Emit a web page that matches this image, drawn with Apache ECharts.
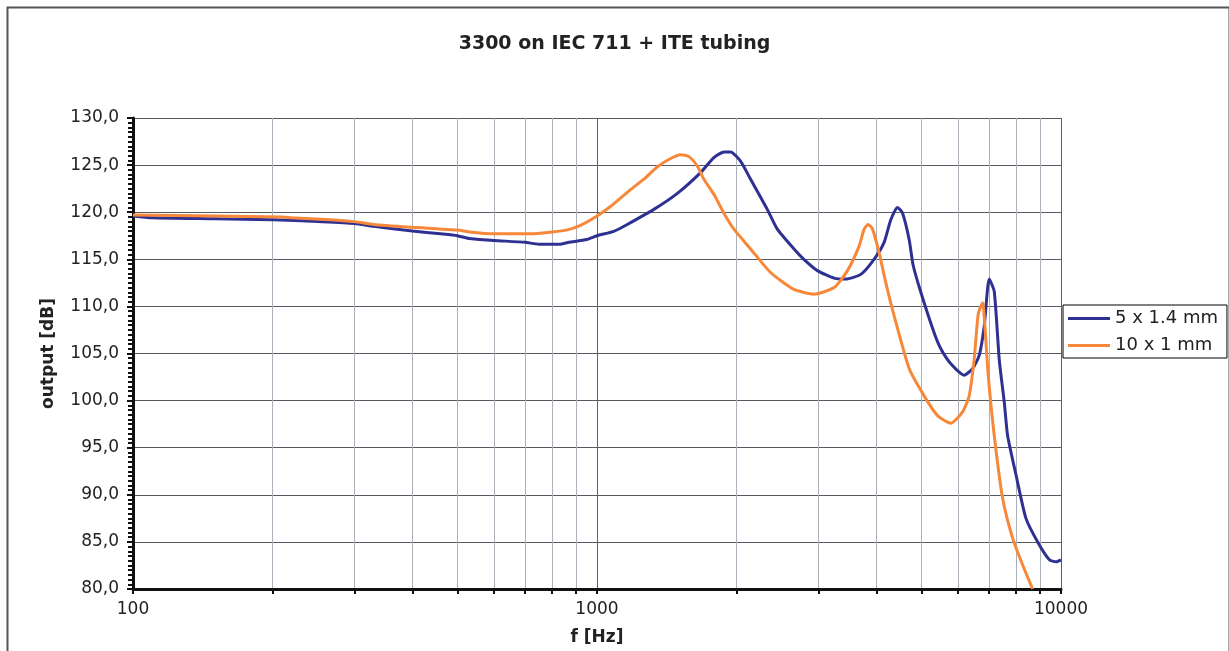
<!DOCTYPE html>
<html>
<head>
<meta charset="utf-8">
<script src="https://cdn.jsdelivr.net/npm/echarts@6/dist/echarts.min.js"></script>
<style>
html,body{margin:0;padding:0;background:#fff;}
#chart{width:1229px;height:651px;}
</style>
</head>
<body>
<div id="chart"></div>
<script>
var titleText = '3300 on IEC 711 + ITE tubing';
var seriesNames = ['5 x 1.4 mm', '10 x 1 mm'];

var blueFreq = [100,110,150,200,250,300,330,400,460,500,530,600,700,750,830,870,950,1000,1090,1162,1326,1490,1672,1786,1880,1940,2040,2143,2328,2447,2658,2792,2985,3243,3435,3703,3954,4157,4297,4443,4556,4707,4800,4988,5328,5508,5789,6185,6450,6664,6832,7003,7180,7362,7548,7672,8000,8404,8906,9441,9760,10000];
var blueDb   = [119.6,119.4,119.3,119.2,119.0,118.8,118.5,118.0,117.7,117.5,117.2,117.0,116.8,116.6,116.6,116.8,117.1,117.5,118.0,118.7,120.3,122.0,124.2,125.8,126.4,126.4,125.4,123.5,120.3,118.2,116.1,115.0,113.8,113.0,112.9,113.4,115.0,116.8,119.2,120.5,119.9,117.1,114.4,111.5,107.2,105.5,103.9,102.7,103.4,104.8,107.9,112.9,111.6,104.3,99.8,96.3,92.1,87.5,85.0,83.1,82.9,83.1];

var orangeFreq = [100,150,210,220,266,300,330,400,500,530,600,720,800,860,921,1000,1069,1181,1262,1348,1441,1514,1578,1645,1700,1786,1877,1973,2143,2366,2658,2935,3243,3466,3672,3765,3840,3925,4055,4193,4369,4707,5070,5420,5789,6136,6340,6500,6632,6777,6855,6969,7180,7487,7865,8260,8685];
var orangeDb   = [119.7,119.6,119.5,119.4,119.2,119.0,118.7,118.4,118.1,117.9,117.7,117.7,117.9,118.1,118.6,119.6,120.6,122.4,123.5,124.8,125.7,126.1,125.9,124.9,123.5,121.9,119.9,118.2,116.1,113.6,111.8,111.3,112.0,113.8,116.4,118.2,118.7,118.2,115.7,112.5,109.0,103.4,100.5,98.4,97.6,98.8,100.5,104.4,109.2,110.4,107.9,102.7,96.3,89.6,85.4,82.6,80.0];

var yMin = 80, yMax = 130, yStep = 5;
var xMin = 100, xMax = 10000;

function pairs(xs, ys) { return xs.map(function (x, i) { return [x, ys[i]]; }); }

var chart = echarts.init(document.getElementById('chart'), null, {renderer: 'canvas'});
var FONT = 'DejaVu Sans';

chart.setOption({
  backgroundColor: '#ffffff',
  animation: false,
  textStyle: {fontFamily: FONT},
  graphic: [{
    type: 'rect', left: 5, top: 5, silent: true,
    shape: {width: 1222, height: 700},
    style: {fill: 'none', stroke: '#555', lineWidth: 2}
  }],
  title: {
    text: titleText, left: 'center', top: 30,
    textStyle: {fontFamily: FONT, fontSize: 19, fontWeight: 'bold', color: '#222'}
  },
  legend: {
    orient: 'vertical', left: 1063, top: 305,
    padding: [4, 9, 3, 5],
    borderColor: '#000', borderWidth: 1, backgroundColor: '#fff',
    itemWidth: 42, itemHeight: 3, itemGap: 8, icon: 'rect',
    textStyle: {fontFamily: FONT, fontSize: 18, color: '#222', lineHeight: 19},
    data: seriesNames
  },
  grid: {left: 133, right: 168, top: 118, bottom: 60, containLabel: false},
  xAxis: {
    type: 'log', logBase: 10, min: xMin, max: xMax,
    name: 'f [Hz]', nameLocation: 'middle', nameGap: 40,
    nameTextStyle: {fontFamily: FONT, fontSize: 17, fontWeight: 'bold', color: '#222'},
    axisLine: {show: true, onZero: false, lineStyle: {color: '#111', width: 3}},
    axisTick: {show: true, length: 5, lineStyle: {color: '#111', width: 2}},
    minorTick: {show: true, splitNumber: 9, length: 5, lineStyle: {color: '#111', width: 2}},
    axisLabel: {
      margin: 12, fontFamily: FONT, fontSize: 17, color: '#222',
      formatter: function (v) { return String(Math.round(v)); }
    },
    splitLine: {show: true, lineStyle: {color: '#5a5f66', width: 1}},
    minorSplitLine: {show: true, lineStyle: {color: '#a9b0b8', width: 1}}
  },
  yAxis: {
    type: 'value', min: yMin, max: yMax, interval: yStep,
    name: 'output [dB]', nameLocation: 'middle', nameGap: 76, nameRotate: 90,
    nameTextStyle: {fontFamily: FONT, fontSize: 17, fontWeight: 'bold', color: '#222'},
    axisLine: {show: true, lineStyle: {color: '#111', width: 3}},
    axisTick: {show: true, length: 6, lineStyle: {color: '#111', width: 2}},
    minorTick: {show: true, splitNumber: 10, length: 5, lineStyle: {color: '#111', width: 2}},
    axisLabel: {
      margin: 14, fontFamily: FONT, fontSize: 17, color: '#222',
      formatter: function (v) { return v.toFixed(1).replace('.', ','); }
    },
    splitLine: {show: true, lineStyle: {color: '#555a60', width: 1}}
  },
  series: [
    {
      name: seriesNames[0], type: 'line', data: pairs(blueFreq, blueDb),
      showSymbol: false, symbol: 'none', smooth: 0.2,
      lineStyle: {color: '#2e3192', width: 3}, itemStyle: {color: '#2e3192'}
    },
    {
      name: seriesNames[1], type: 'line', data: pairs(orangeFreq, orangeDb),
      showSymbol: false, symbol: 'none', smooth: 0.2,
      lineStyle: {color: '#f7883a', width: 3}, itemStyle: {color: '#f7883a'}
    }
  ]
});
</script>
</body>
</html>
